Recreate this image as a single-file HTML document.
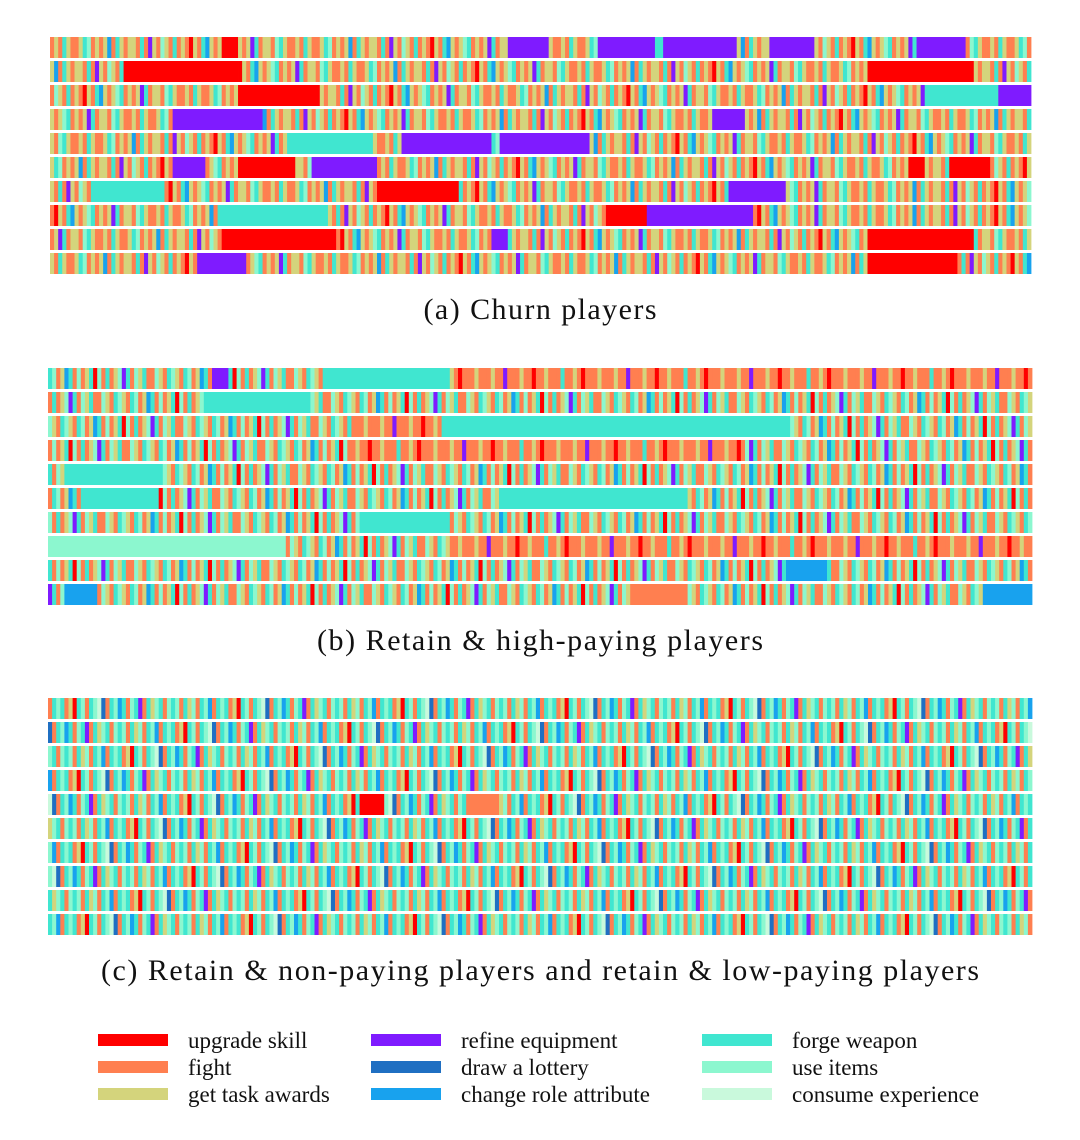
<!DOCTYPE html>
<html><head><meta charset="utf-8">
<style>
html,body{margin:0;padding:0;background:#fff;}
svg{display:block;}
text{font-family:"Liberation Serif",serif;fill:#111;}
</style></head>
<body>
<svg id="chart" width="1080" height="1140" viewBox="0 0 1080 1140" xmlns="http://www.w3.org/2000/svg"></svg>
<script>
// ---- data ----
const categories = ["upgrade skill","fight","get task awards","refine equipment","draw a lottery","change role attribute","forge weapon","use items","consume experience"];
const categoryCodes = ["U","F","T","R","L","C","W","I","E"];
const categoryColors = ["#ff0000","#ff7f50","#d4d47c","#7f1bff","#1f6fc2","#18a2ee","#40e6d0","#8cf7cf","#c9f9dc"];
const panelCaptions = ["(a)  Churn players","(b)  Retain & high-paying players","(c)  Retain & non-paying players and retain & low-paying players"];
const captionWidths = [233, 446, 878];
// filler patterns (codes), used for densely mixed regions
const fillM = "FTFWTFFTWIFTFTCFWTFTTFWFRTFITFWFTFUTFWCTFTIWFTFTRWFTTFIWTF";
const fillO = "FFTFFUFFTFFFWFFTFUFFFTFFFTFFRF";
const fillB = "FWITFWIFTCWFIFTWUIFWFTIRWFITWFFIT";
const fillC = "WIFWTIFWICFWIWFTUWIFWIELFWICWFIWRFWTIWFI";
// row segment specs: code + length in units (120 units per row)
const rowsA = [
 "m21 U2 m33 R5 m6 R7 W1 R9 m4 R5 m13 R6 m8",
 "m9 U14 m77 U13 m7",
 "m23 U10 m74 W9 R4",
 "m15 R11 m55 R4 m35",
 "m29 W10 m4 R11 m1 R11 m54",
 "m15 R4 m4 U7 m2 R8 m65 U2 m3 U5 m5",
 "m5 W9 m26 U10 m33 R7 m30",
 "m21 W13 m34 U5 R13 m34",
 "m21 U14 m19 R2 m44 U13 m7",
 "m18 R6 m76 U11 m9"
];
const rowsB = [
 "b20 R2 b12 W15 o71",
 "b19 W13 b88",
 "b37 o11 W42 b30",
 "b37 o48 b35",
 "b2 W12 b106",
 "b4 W9 b42 W23 b42",
 "b38 W11 b71",
 "I29 b20 o71",
 "b90 C5 b25",
 "b2 C4 b65 F7 b36 C6"
];
const rowsC = [
 "c120","c120","c120","c120",
 "c38 U3 c10 F4 c65",
 "c120","c120","c120","c120","c120"
];
const legendOrder = [0,1,2,3,4,5,6,7,8];

// ---- drawing ----
const NS = "http://www.w3.org/2000/svg";
const svg = document.getElementById("chart");
function mk(tag, attrs, parent){
  const e = document.createElementNS(NS, tag);
  for (const k in attrs) e.setAttribute(k, attrs[k]);
  (parent||svg).appendChild(e);
  return e;
}
const fills = {m:fillM, o:fillO, b:fillB, c:fillC};
const panels = [
  {rows:rowsA, x0:50, x1:1031, y0:37, cap:309},
  {rows:rowsB, x0:48, x1:1032, y0:368, cap:640},
  {rows:rowsC, x0:48, x1:1032, y0:698, cap:970}
];
const rowPitch = 24, rowH = 21, units = 120;
function colorOf(code){ return categoryColors[categoryCodes.indexOf(code)]; }

panels.forEach((p, pi) => {
  const g = mk("g", {});
  
  
  const uw = (p.x1 - p.x0) / units;
  p.rows.forEach((spec, ri) => {
    const rg = mk("g", {}, g);
    
    
    const y = p.y0 + ri * rowPitch;
    let u = 0;
    let off = ri * 13 + pi * 5;
    spec.split(" ").forEach(tok => {
      const code = tok[0], len = parseInt(tok.slice(1));
      if (fills[code]) {
        const pat = fills[code];
        for (let k = 0; k < len * 2; k++) {
          const c = pat[(off + k) % pat.length];
          const r = mk("rect", {x:(p.x0 + (u + k/2) * uw).toFixed(2), y:y, width:(uw/2 + 0.4).toFixed(2), height:rowH, fill:colorOf(c)}, rg);
          
          
        }
        off += len * 2 + 3;
      } else {
        const r = mk("rect", {x:(p.x0 + u * uw).toFixed(2), y:y, width:(len * uw + 0.4).toFixed(2), height:rowH, fill:colorOf(code)}, rg);
        
        
      }
      u += len;
    });
  });
  const t = mk("text", {x:540, y:p.cap + 10, "font-size":30, "text-anchor":"middle", textLength:captionWidths[pi], lengthAdjust:"spacing"});
  
  
  t.textContent = panelCaptions[pi];
});

// legend
const lg = mk("g", {});


const colX = [98, 371, 702], rowY = [1040, 1067, 1094];
legendOrder.forEach((ci, i) => {
  const col = Math.floor(i / 3), row = i % 3;
  const eg = mk("g", {}, lg);
  
  
  mk("rect", {x:colX[col], y:rowY[row] - 6, width:70, height:12, fill:categoryColors[ci]}, eg);
  const t = mk("text", {x:colX[col] + 90, y:rowY[row] + 8, "font-size":23}, eg);
  t.textContent = categories[ci];
});
</script>
</body></html>
